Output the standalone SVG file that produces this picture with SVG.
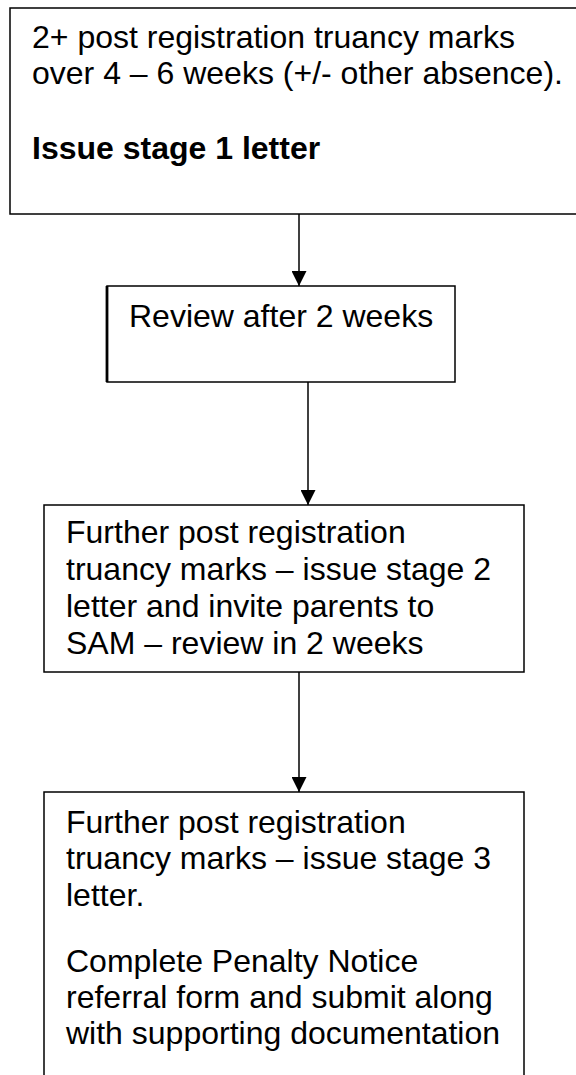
<svg xmlns="http://www.w3.org/2000/svg" width="576" height="1075" viewBox="0 0 576 1075">
<style>
.box{fill:#fff;stroke:#000;stroke-width:1.5}
.t{font-family:"Liberation Sans",Arial,sans-serif;font-size:32px;fill:#000}
.b{font-weight:bold}
.c{stroke:#000;stroke-width:1.5;fill:none}
</style>
<defs>
<marker id="ah" markerWidth="15" markerHeight="15" viewBox="0 0 15 15" refX="15" refY="7.5" orient="auto" markerUnits="userSpaceOnUse">
<path d="M0,0 L15,7.5 L0,15 Z" fill="#000"/>
</marker>
</defs>
<rect width="576" height="1075" fill="#fff"/>
<g id="node1">
<rect class="box" x="10" y="8" width="580" height="206"/>
<text class="t" x="32" y="48">2+ post registration truancy marks</text>
<text class="t" x="32" y="84">over 4 – 6 weeks (+/- other absence).</text>
<text class="t b" x="32" y="159">Issue stage 1 letter</text>
</g>
<g id="node2">
<rect class="box" x="107" y="286" width="348" height="96"/>
<line x1="107" y1="286" x2="107" y2="382" stroke="#000" stroke-width="2.8"/>
<text class="t" x="129" y="327">Review after 2 weeks</text>
</g>
<g id="node3">
<rect class="box" x="44" y="505" width="480" height="167"/>
<text class="t" x="66" y="543">Further post registration</text>
<text class="t" x="66" y="580">truancy marks – issue stage 2</text>
<text class="t" x="66" y="617">letter and invite parents to</text>
<text class="t" x="66" y="654">SAM – review in 2 weeks</text>
</g>
<g id="node4">
<rect class="box" x="44" y="792" width="480" height="300"/>
<text class="t" x="66" y="833">Further post registration</text>
<text class="t" x="66" y="869">truancy marks – issue stage 3</text>
<text class="t" x="66" y="906">letter.</text>
<text class="t" x="66" y="972">Complete Penalty Notice</text>
<text class="t" x="66" y="1008">referral form and submit along</text>
<text class="t" x="66" y="1044">with supporting documentation</text>
</g>
<g id="connectors">
<line class="c" x1="299" y1="214" x2="299" y2="286" marker-end="url(#ah)"/>
<line class="c" x1="308" y1="382" x2="308" y2="505" marker-end="url(#ah)"/>
<line class="c" x1="299" y1="672" x2="299" y2="792" marker-end="url(#ah)"/>
</g>
</svg>
